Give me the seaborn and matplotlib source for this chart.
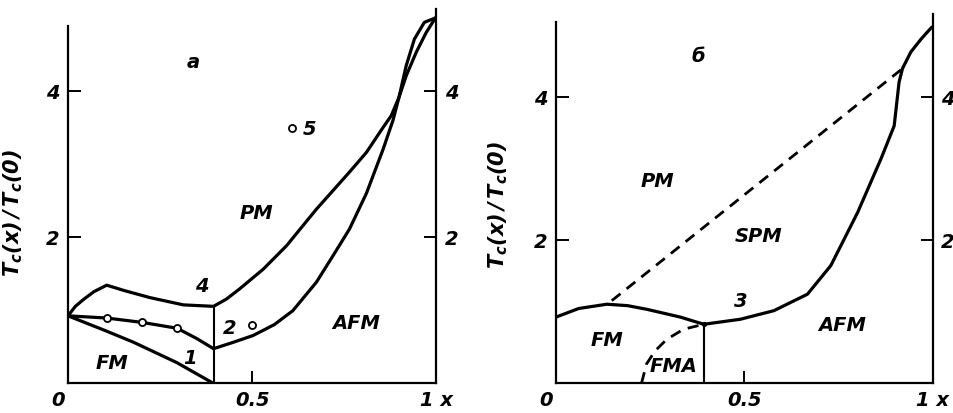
import numpy as np
import pandas as pd
import matplotlib
matplotlib.use("Agg")
import matplotlib.pyplot as plt
import matplotlib.transforms as mtransforms
import seaborn as sns

# --- panel a: phase boundaries ---
a_c4_x = [0, 0.02, 0.041, 0.07, 0.105, 0.15, 0.222, 0.313, 0.395,
          0.43, 0.466, 0.53, 0.593, 0.674, 0.764, 0.81, 0.855, 0.877,
          0.898, 0.918, 0.945, 0.972, 0.997]
a_c4_y = [0.92, 1.05, 1.14, 1.25, 1.34, 1.27, 1.17, 1.07, 1.05,
          1.15, 1.29, 1.56, 1.88, 2.38, 2.89, 3.16, 3.50, 3.66,
          3.91, 4.21, 4.53, 4.80, 5.0]
a_c2_x = [0.395, 0.45, 0.502, 0.56, 0.61, 0.674, 0.72, 0.764, 0.81,
          0.855, 0.882, 0.898, 0.918, 0.94, 0.967, 0.997]
a_c2_y = [0.47, 0.56, 0.65, 0.80, 0.99, 1.38, 1.75, 2.11, 2.6,
          3.2, 3.6, 3.91, 4.35, 4.71, 4.94, 5.0]
a_c1_x = [0, 0.105, 0.201, 0.296, 0.349, 0.395]
a_c1_y = [0.92, 0.89, 0.83, 0.75, 0.61, 0.47]
a_fm_x = [0, 0.1, 0.177, 0.295, 0.393]
a_fm_y = [0.92, 0.72, 0.56, 0.28, 0.0]
a_vert_x = [0.395, 0.395]
a_vert_y = [0.0, 1.05]
a_pts_x = [0.105, 0.201, 0.296, 0.498, 0.608]
a_pts_y = [0.89, 0.83, 0.75, 0.80, 3.49]

# --- panel b ---
b_solid_x = [0, 0.06, 0.135, 0.19, 0.24, 0.33, 0.392, 0.489, 0.578,
             0.667, 0.729, 0.80, 0.862, 0.897, 0.91, 0.919, 0.941,
             0.968, 0.997]
b_solid_y = [0.92, 1.04, 1.10, 1.08, 1.03, 0.92, 0.82, 0.89, 1.01,
             1.24, 1.64, 2.38, 3.13, 3.59, 4.2, 4.39, 4.62, 4.80, 4.97]
b_dash_x = [0.148, 0.919]
b_dash_y = [1.15, 4.39]
b_fma_x = [0.227, 0.24, 0.263, 0.294, 0.338, 0.392]
b_fma_y = [0.0, 0.265, 0.45, 0.61, 0.75, 0.82]
b_vert_x = [0.392, 0.392]
b_vert_y = [0.0, 0.82]

a_labels = [("а", 0.34, 4.41), ("PM", 0.511, 2.34), ("4", 0.362, 1.33),
            ("5", 0.656, 3.48), ("2", 0.439, 0.76), ("1", 0.331, 0.35),
            ("FM", 0.118, 0.28), ("AFM", 0.782, 0.83)]
b_labels = [("б", 0.378, 4.57), ("PM", 0.268, 2.83), ("SPM", 0.538, 2.06),
            ("3", 0.489, 1.15), ("FM", 0.135, 0.61), ("FMA", 0.312, 0.24),
            ("AFM", 0.76, 0.82)]

xticks = [0, 0.5, 1]
xticklabels = ["0", "0.5", "1 x"]
yticks = [2, 4]
yticklabels = ["2", "4"]

sns.set_style("white")
plt.rcParams['font.family'] = ['DejaVu Sans']
plt.rcParams['mathtext.fontset'] = 'custom'
plt.rcParams['mathtext.it'] = 'DejaVu Sans:italic:bold'
plt.rcParams['mathtext.rm'] = 'DejaVu Sans:italic:bold'
plt.rcParams['mathtext.bf'] = 'DejaVu Sans:italic:bold'
for key in ['text.color', 'axes.labelcolor', 'xtick.color', 'ytick.color']:
    plt.rcParams[key] = 'black'

fig = plt.figure(figsize=(9.54, 4.14), dpi=100)
ax_a = fig.add_axes([68 / 954, 30 / 414, 368.5 / 954, 376 / 414])
ax_b = fig.add_axes([556 / 954, 30 / 414, 377 / 954, 376 / 414])

LW = 2.3
DASH = (0, (4.0, 2.8))
txt = dict(fontsize=14, fontstyle='italic', fontweight='bold',
           ha='center', va='center', color='black')


def curve(ax, xs, ys, lw=LW, **kw):
    sns.lineplot(x=xs, y=ys, ax=ax, color='black', lw=lw, sort=False,
                 estimator=None, **kw)


def style_axes(ax, ytop, lbound, rbound, lab_pos):
    ax.set_xlim(0, 1)
    ax.set_ylim(0, ytop)
    ax.spines['top'].set_visible(False)
    for s in ['left', 'right', 'bottom']:
        ax.spines[s].set_visible(True)
        ax.spines[s].set_color('black')
        ax.spines[s].set_linewidth(1.6)
    ax.spines['left'].set_bounds(0, lbound)
    ax.spines['right'].set_bounds(0, rbound)
    ax.set_xticks(xticks)
    ax.set_xticklabels(xticklabels, fontsize=14, fontstyle='italic',
                       fontweight='bold')
    ax.set_yticks(yticks)
    ax.set_yticklabels(yticklabels, fontsize=14, fontstyle='italic',
                       fontweight='bold')
    ax.tick_params(axis='x', direction='in', length=9, width=1.4, pad=5,
                   bottom=True, colors='black')
    ax.tick_params(axis='y', direction='in', length=9, width=1.4, pad=6,
                   left=True, right=True, labelleft=True, labelright=True,
                   colors='black')
    # "0" sits left of the origin in the reference
    lab0 = ax.get_xticklabels()[0]
    lab0.set_transform(lab0.get_transform() +
                       mtransforms.ScaledTranslation(-10 / 100, 0, fig.dpi_scale_trans))
    ax.set_ylabel(r"$T_c(x)\,/\,T_c(0)$", fontsize=15, color='black')
    ax.yaxis.set_label_coords(lab_pos[0], lab_pos[1])
    ax.set_xlabel("")


# panel a
curve(ax_a, a_c4_x, a_c4_y)
curve(ax_a, a_c2_x, a_c2_y)
curve(ax_a, a_c1_x, a_c1_y)
curve(ax_a, a_fm_x, a_fm_y)
curve(ax_a, a_vert_x, a_vert_y, lw=1.5)
sns.scatterplot(x=a_pts_x, y=a_pts_y, ax=ax_a, marker='o', s=26,
                facecolor='white', edgecolor='black', linewidth=1.3, zorder=4)
for t, x, y in a_labels:
    ax_a.text(x, y, t, **txt)
style_axes(ax_a, 5.15, 4.89, 5.12, (-0.117, 0.456))

# panel b
curve(ax_b, b_solid_x, b_solid_y)
curve(ax_b, b_dash_x, b_dash_y, lw=2.0, linestyle=DASH)
curve(ax_b, b_fma_x, b_fma_y, lw=2.0, linestyle=DASH)
curve(ax_b, b_vert_x, b_vert_y, lw=1.5)
sns.scatterplot(x=[b_vert_x[1]], y=[b_vert_y[1]], ax=ax_b, marker='o', s=14,
                color='black', linewidth=0, zorder=4)
for t, x, y in b_labels:
    ax_b.text(x, y, t, **txt)
style_axes(ax_b, 5.25, 5.04, 5.15, (-0.122, 0.476))

fig.savefig("out.png", dpi=100, facecolor='white')
